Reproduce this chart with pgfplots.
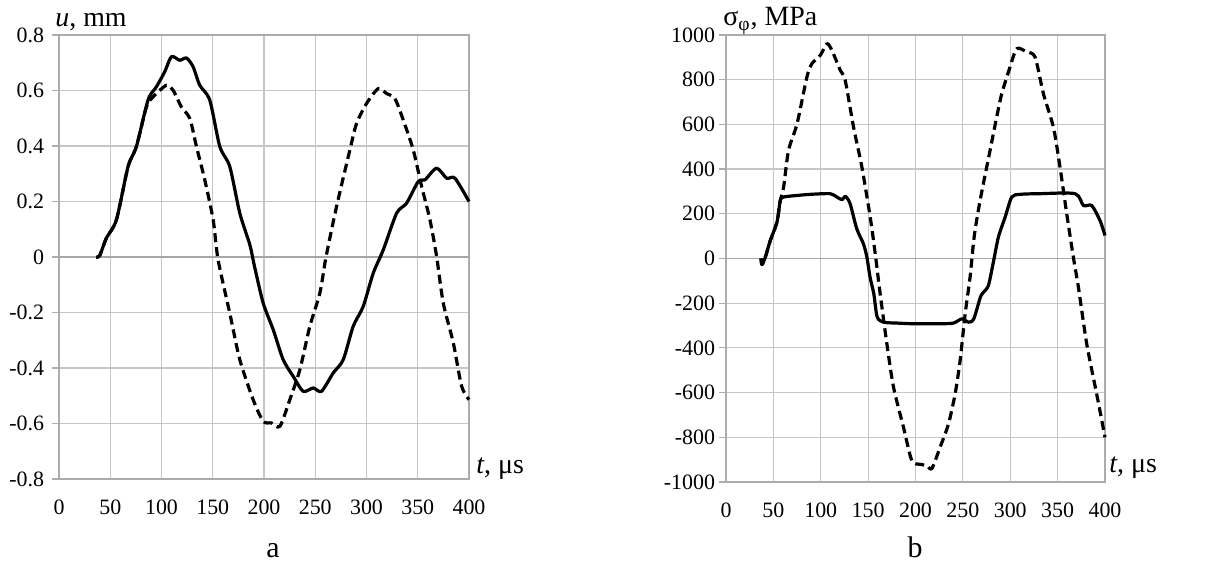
\documentclass[border=0pt]{standalone}
\usepackage{fontspec}
\setmainfont{Liberation Serif}
\usepackage{pgfplots}
\pgfplotsset{compat=1.18}

\pgfplotsset{
  panel/.style={
    scale only axis,
    axis line style={draw=gray!65, line width=0.6pt},
    grid=major,
    grid style={draw=gray!45, line width=0.6pt},
    xmin=0, xmax=400, xtick={0,50,...,400},
    xtick style={draw=none},
    ytick pos=left, tick align=outside,
    ytick style={draw=gray!65, line width=0.6pt},
    major tick length=3.5bp,
    tick label style={font=\fontsize{11}{13}\selectfont},
    xticklabel style={yshift=-3.5bp},
    /pgf/number format/assume math mode=true,
    /pgf/number format/1000 sep={},
    clip=false,
    extra y ticks={0},
    extra y tick labels={},
    extra y tick style={grid style={draw=gray!70, line width=0.7pt}, ytick style={draw=none}},
  },
  curve/.style={black, mark=none, line width=1.6bp, line join=round, smooth, tension=0.45},
  dashline/.style={curve, dash pattern=on 4.5bp off 2.5bp},
}

\begin{document}
\begin{tikzpicture}
\path[use as bounding box] (0,0) rectangle (614.5bp,283bp);

% ---- panel a: displacement ----
\begin{axis}[panel,
  at={(29.5bp,43.5bp)}, anchor=south west,
  width=205bp, height=222bp,
  ymin=-0.8, ymax=0.8, ytick={-0.8,-0.6,...,0.81},
  yticklabel style={xshift=-0.5bp, /pgf/number format/.cd, fixed, precision=1},
]
\addplot[curve] table {
t u
36.4 0
39.7 0.005
46.2 0.068
56 0.134
67.4 0.326
75.5 0.398
86.9 0.566
95 0.613
103.2 0.668
109.7 0.722
117.8 0.709
124.4 0.717
130.9 0.685
137.3 0.619
147.1 0.565
156.9 0.398
166.6 0.326
176.4 0.158
186.2 0.044
190.5 -0.03
199.2 -0.166
209 -0.262
218.7 -0.37
228.5 -0.43
238.2 -0.484
248 -0.472
256.1 -0.484
267.5 -0.418
277.3 -0.37
287 -0.25
296.8 -0.178
306.6 -0.058
316.4 0.026
329.4 0.158
339.1 0.194
350.5 0.272
357 0.278
368.4 0.32
378.2 0.284
386.3 0.284
400 0.2
};
\addplot[dashline] table {
t u
36.4 0
39.7 0.005
46.2 0.068
56 0.134
67.4 0.326
75.5 0.398
85.3 0.541
91.8 0.577
104.8 0.619
111.3 0.601
119.4 0.541
127.6 0.499
134.1 0.398
142.2 0.278
150.4 0.134
155.2 -0.01
166.6 -0.202
176.4 -0.37
189.4 -0.514
199.2 -0.592
207.3 -0.598
215.5 -0.61
225.2 -0.514
235 -0.406
244.7 -0.25
254.5 -0.13
260.5 0
270.8 0.182
283.8 0.386
290.3 0.481
300 0.553
311.5 0.607
319.6 0.589
327.7 0.571
335.9 0.493
345.6 0.386
353.8 0.254
361.9 0.134
368.4 0.002
374.9 -0.166
384.7 -0.31
392.8 -0.466
400 -0.514
};
\node[anchor=base west, inner sep=0pt, font=\fontsize{14}{16}\selectfont]
  at ([xshift=-2bp, yshift=4.5bp]rel axis cs:0,1) {\textit{u}, mm};
\node[anchor=base west, inner sep=0pt, font=\fontsize{14}{16}\selectfont]
  at ([xshift=3.5bp, yshift=3bp]rel axis cs:1,0) {\textit{t}, μs};
\end{axis}

% ---- panel b: stress ----
\begin{axis}[panel,
  at={(363bp,42bp)}, anchor=south west,
  width=189.5bp, height=223.5bp,
  ymin=-1000, ymax=1000, ytick={-1000,-800,...,1000},
  yticklabel style={xshift=1.5bp},
]
\addplot[curve] table {
t s
36.9 0
38 -27
41.5 6
46.7 80
53.8 163
57.3 260
60.8 275
74.9 282
89 287
110 290
117 275
122.5 263
126 278
131 245
138 133
145 66
148.7 6
152 -83
156 -158
159.6 -262
166.6 -285
180.6 -289
198 -292
226 -292
240 -289
249 -270
256 -285
261.5 -270
268.5 -173
272 -150
277 -120
282 -20
287.5 96
294.6 185
301.6 275
310.4 287
331.4 290
368.4 290
377.2 237
386 237
394.7 170
400 103
};
\addplot[dashline] table {
t s
36.9 0
38 -27
41.5 6
46.7 80
53.8 163
57.3 260
60.8 319
66 484
75 603
85.4 812
90.7 872
99.5 909
106.5 961
111.8 931
120.6 842
125.8 797
134.6 588
143.4 409
152.2 185
157.5 21
162.7 -158
169.8 -382
176.8 -576
187.3 -755
196.1 -904
204.9 -921
211.9 -926
217.2 -940
226 -844
234.8 -740
241.8 -606
247.1 -456
252.4 -248
257.6 -83
262 100
268.2 260
278.7 484
285.7 633
291 737
299.8 857
306.9 939
317.4 924
326.2 901
335 737
345.5 588
352.5 409
359.6 200
366.6 6
371.9 -128
380.7 -382
391.2 -606
400 -800
};
\node[anchor=base west, inner sep=0pt, font=\fontsize{14}{16}\selectfont]
  at ([xshift=-1.5bp, yshift=4.5bp]rel axis cs:0,1) {σ\textsubscript{φ}, MPa};
\node[anchor=base west, inner sep=0pt, font=\fontsize{14}{16}\selectfont]
  at ([xshift=2bp, yshift=5bp]rel axis cs:1,0) {\textit{t}, μs};
\end{axis}

\node[anchor=base, font=\fontsize{15}{18}\selectfont] at (136.5bp,4.5bp) {a};
\node[anchor=base, font=\fontsize{15}{18}\selectfont] at (457.5bp,4.5bp) {b};
\end{tikzpicture}
\end{document}
